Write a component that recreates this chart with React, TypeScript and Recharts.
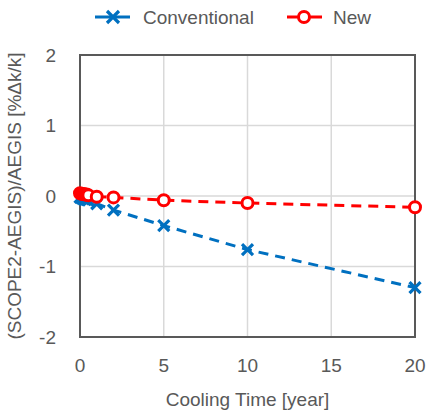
import { LineChart, Line, XAxis, YAxis, CartesianGrid, ReferenceArea, Legend, Label } from "recharts";

const coolingTime = [0, 0.1, 0.2, 0.3, 0.4, 0.5, 1, 2, 5, 10, 20];
const conventional = [-0.02, -0.03, -0.04, -0.05, -0.05, -0.06, -0.11, -0.2, -0.42, -0.76, -1.3];
const newMethod = [0.04, 0.03, 0.03, 0.02, 0.02, 0.01, -0.01, -0.02, -0.06, -0.1, -0.16];
const xTicks = [0, 5, 10, 15, 20];
const yTicks = [-2, -1, 0, 1, 2];

const BLUE = "#0070C0";
const RED = "#FF0000";
const GRAY = "#595959";
const FONT = "'Liberation Sans', Arial, sans-serif";
const FS = 19;

const data = coolingTime.map((t, i) => ({ t, conv: conventional[i], nw: newMethod[i] }));

function CrossDot(props: any) {
  const { cx, cy } = props;
  if (cx == null || cy == null) return null;
  const s = 5.5;
  return (
    <path
      d={`M${cx - s},${cy - s}L${cx + s},${cy + s}M${cx - s},${cy + s}L${cx + s},${cy - s}`}
      stroke={BLUE}
      strokeWidth={3.2}
      fill="none"
    />
  );
}

function CircleDot(props: any) {
  const { cx, cy } = props;
  if (cx == null || cy == null) return null;
  return <circle cx={cx} cy={cy} r={5.5} stroke={RED} strokeWidth={3} fill="#fff" />;
}

function LegendContent() {
  return (
    <svg width={427} height={34} style={{ fontFamily: FONT, display: "block" }}>
      <line x1={95} y1={17} x2={130} y2={17} stroke={BLUE} strokeWidth={3} />
      <path d="M107,11L119,23M107,23L119,11" stroke={BLUE} strokeWidth={3.2} />
      <text x={143} y={24} fontSize={FS} fill={GRAY}>Conventional</text>
      <line x1={287} y1={17} x2={322} y2={17} stroke={RED} strokeWidth={3} />
      <circle cx={304} cy={17} r={5.5} stroke={RED} strokeWidth={3} fill="#fff" />
      <text x={333} y={24} fontSize={FS} fill={GRAY}>New</text>
    </svg>
  );
}

export default function App() {
  return (
    <div style={{ position: "absolute", left: 0, top: 0, width: 427, height: 412, background: "#fff" }}>
      <LineChart width={427} height={412} data={data} margin={{ top: 21, right: 12, bottom: 0, left: 0 }}>
        <CartesianGrid stroke="#D9D9D9" strokeWidth={1.5} />
        <Legend verticalAlign="top" align="left" height={34} wrapperStyle={{ top: 0, left: 0 }} content={<LegendContent />} />
        <XAxis
          dataKey="t"
          type="number"
          domain={[0, 20]}
          ticks={xTicks}
          height={75}
          axisLine={false}
          tickLine={false}
          tickMargin={16}
          tick={{ fill: GRAY, fontSize: FS, fontFamily: FONT }}
        >
          <Label value="Cooling Time [year]" position="insideBottom" offset={6} fill={GRAY} fontSize={FS} fontFamily={FONT} />
        </XAxis>
        <YAxis
          type="number"
          domain={[-2, 2]}
          ticks={yTicks}
          width={80}
          axisLine={false}
          tickLine={false}
          tickMargin={18}
          tick={{ fill: GRAY, fontSize: FS, fontFamily: FONT }}
        >
          <Label
            value="(SCOPE2-AEGIS)/AEGIS [%Δk/k]"
            angle={-90}
            position="insideLeft"
            offset={14}
            style={{ textAnchor: "middle" }}
            fill={GRAY}
            fontSize={FS}
            fontFamily={FONT}
          />
        </YAxis>
        <ReferenceArea x1={0} x2={20} y1={-2} y2={2} fill="none" stroke={GRAY} strokeWidth={2} ifOverflow="visible" />
        <Line
          dataKey="conv"
          stroke={BLUE}
          strokeWidth={3}
          strokeDasharray="10 7"
          dot={<CrossDot />}
          activeDot={false}
          isAnimationActive={false}
        />
        <Line
          dataKey="nw"
          stroke={RED}
          strokeWidth={3}
          strokeDasharray="10 7"
          dot={<CircleDot />}
          activeDot={false}
          isAnimationActive={false}
        />
      </LineChart>
    </div>
  );
}
